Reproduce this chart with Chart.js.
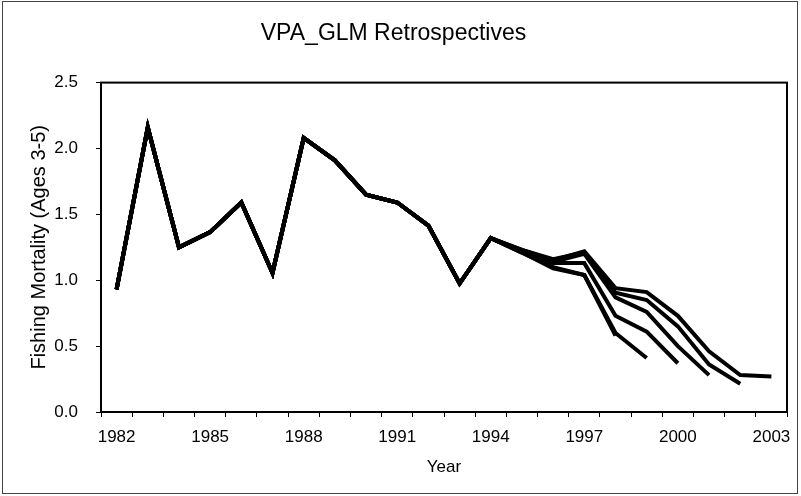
<!DOCTYPE html>
<html lang="en">
<head>
    <meta charset="UTF-8">
    <title>VPA_GLM Retrospectives</title>
    <script src="https://cdn.jsdelivr.net/npm/chart.js"></script>
    <style>
        body {
            margin: 0;
            padding: 0;
            background: white;
        }
        #wrap {
            width: 801px;
            height: 496px;
        }
    </style>
</head>
<body>
    <div id="wrap"><canvas id="retroChart" width="801" height="496"></canvas></div>

    <script>
        // years on the x axis
        const years = [1982, 1983, 1984, 1985, 1986, 1987, 1988, 1989, 1990, 1991, 1992,
                       1993, 1994, 1995, 1996, 1997, 1998, 1999, 2000, 2001, 2002, 2003];

        // F for 1982-1994, same in every peel
        const baseF = [0.93, 2.16, 1.25, 1.365, 1.59, 1.055, 2.08, 1.91, 1.65, 1.59, 1.415, 0.975, 1.32];

        // retrospective tails, 1995 up to the terminal year
        const tail2003 = [1.23, 1.15, 1.22, 0.94, 0.91, 0.73, 0.46, 0.28, 0.27];
        const tail2002 = [1.23, 1.16, 1.21, 0.905, 0.85, 0.65, 0.36, 0.215];
        const tail2001 = [1.22, 1.14, 1.20, 0.87, 0.76, 0.50, 0.28];
        const tail2000 = [1.22, 1.13, 1.13, 0.73, 0.61, 0.37];
        const tail1999 = [1.21, 1.10, 1.04, 0.60, 0.41];
        const tail1998 = [1.21, 1.09, 1.04, 0.58];

        const yTicks = [0, 0.5, 1.0, 1.5, 2.0, 2.5];

        const font = "'Liberation Sans', Arial, sans-serif";

        function peel(label, tail) {
            return {
                label: label,
                data: baseF.concat(tail),
                borderColor: 'black',
                borderWidth: 4,
                pointRadius: 0,
                fill: false,
                tension: 0
            };
        }

        const frames = {
            id: 'frames',
            beforeDraw(chart) {
                const ctx = chart.ctx;
                ctx.save();
                ctx.fillStyle = 'white';
                ctx.fillRect(0, 0, chart.width, chart.height);
                ctx.strokeStyle = '#444';
                ctx.lineWidth = 1;
                ctx.strokeRect(2.5, 1.5, 795, 492);
                ctx.restore();
            },
            afterDraw(chart) {
                const a = chart.chartArea;
                const ctx = chart.ctx;
                ctx.save();
                ctx.strokeStyle = 'black';
                ctx.lineWidth = 2;
                ctx.strokeRect(a.left, a.top, a.right - a.left, a.bottom - a.top);
                ctx.restore();
            }
        };

        const ctx = document.getElementById('retroChart').getContext('2d');
        new Chart(ctx, {
            type: 'line',
            data: {
                labels: years,
                datasets: [
                    peel('2003', tail2003),
                    peel('2002', tail2002),
                    peel('2001', tail2001),
                    peel('2000', tail2000),
                    peel('1999', tail1999),
                    peel('1998', tail1998)
                ]
            },
            options: {
                responsive: false,
                animation: false,
                layout: { padding: { left: 0, right: 14, top: 0, bottom: 0 } },
                plugins: {
                    legend: { display: false },
                    tooltip: { enabled: false },
                    title: {
                        display: true,
                        text: 'VPA_GLM Retrospectives',
                        color: 'black',
                        font: { family: font, size: 23, weight: 'normal' },
                        padding: { top: 20, bottom: 35 }
                    }
                },
                scales: {
                    x: {
                        offset: true,
                        grid: { offset: true, drawOnChartArea: false, tickLength: 5, color: 'black' },
                        border: { color: 'black', width: 2 },
                        ticks: {
                            autoSkip: false,
                            maxRotation: 0,
                            padding: 10,
                            color: 'black',
                            font: { family: font, size: 17 },
                            callback: function (value, index) {
                                return (years[index] - 1982) % 3 === 0 ? String(years[index]) : '';
                            }
                        },
                        title: {
                            display: true,
                            text: 'Year',
                            color: 'black',
                            font: { family: font, size: 17 },
                            padding: { top: 0, bottom: 18 }
                        },
                        afterFit: function (scale) { scale.height = 84; }
                    },
                    y: {
                        min: 0,
                        max: 2.5,
                        afterBuildTicks: function (scale) {
                            scale.ticks = yTicks.map(v => ({ value: v }));
                        },
                        grid: { drawOnChartArea: false, tickLength: 5, color: 'black' },
                        border: { color: 'black', width: 2 },
                        ticks: {
                            padding: 18,
                            color: 'black',
                            font: { family: font, size: 17 },
                            callback: v => v.toFixed(1)
                        },
                        title: {
                            display: true,
                            text: 'Fishing Mortality (Ages 3-5)',
                            color: 'black',
                            font: { family: font, size: 20 },
                            padding: { top: 27, bottom: 0 }
                        },
                        afterFit: function (scale) { scale.width = 101; }
                    }
                }
            },
            plugins: [frames]
        });
    </script>
</body>
</html>
